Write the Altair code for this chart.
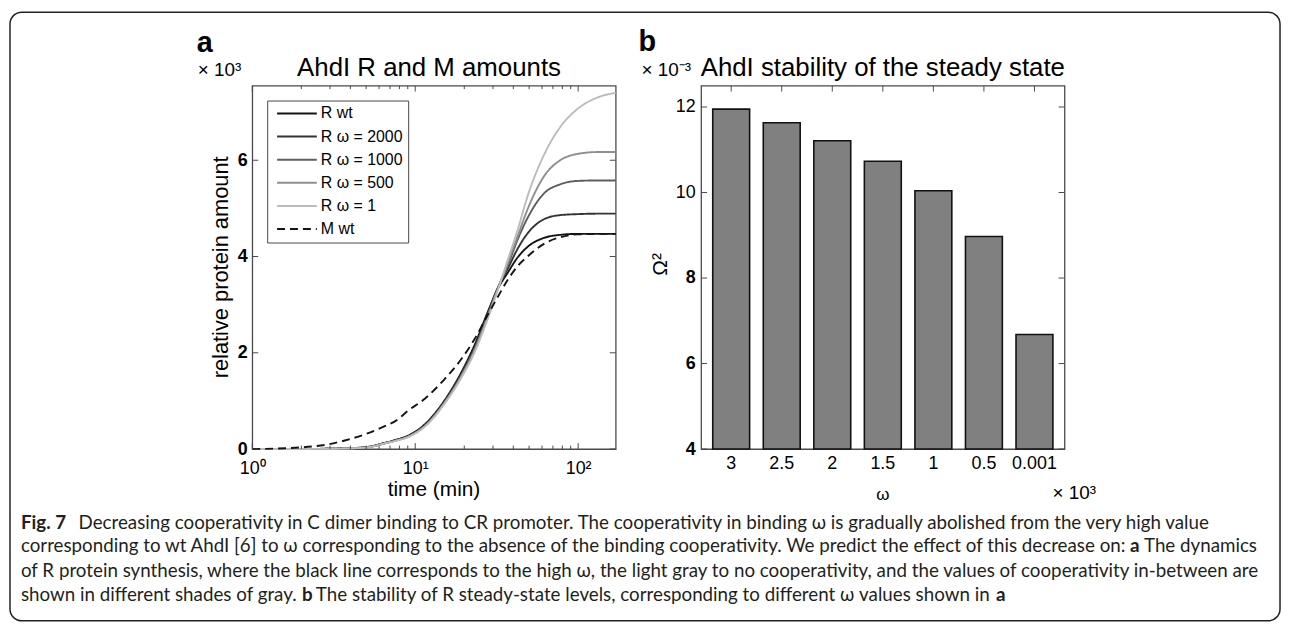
import altair as alt
import pandas as pd

# ---------------- data: panel a ----------------
time_min = [1, 2, 2.95, 4, 4.96, 6.56, 7.55, 9.06, 11.5, 15.2, 19.1, 23.2, 27.9,
            32.1, 36.9, 42.5, 48.9, 62.1, 77.6, 98.6, 130.6, 170]
r_wt = [0, 0.003, 0.007, 0.02, 0.04, 0.13, 0.19, 0.28, 0.52, 1.02, 1.58, 2.17, 2.85,
        3.33, 3.66, 3.98, 4.20, 4.39, 4.45, 4.47, 4.47, 4.47]
r_w2000 = [0, 0.002, 0.006, 0.018, 0.035, 0.13, 0.18, 0.27, 0.50, 1.00, 1.55, 2.12, 2.82,
           3.35, 3.74, 4.16, 4.48, 4.78, 4.86, 4.88, 4.89, 4.89]
r_w1000 = [0, 0.002, 0.006, 0.017, 0.033, 0.12, 0.18, 0.26, 0.49, 0.98, 1.52, 2.09, 2.78,
           3.33, 3.80, 4.35, 4.80, 5.32, 5.50, 5.57, 5.58, 5.58]
r_w500 = [0, 0.002, 0.006, 0.016, 0.032, 0.12, 0.17, 0.26, 0.48, 0.97, 1.50, 2.06, 2.75,
          3.32, 3.85, 4.42, 4.98, 5.68, 6.00, 6.13, 6.17, 6.17]
r_w1 = [0, 0.002, 0.005, 0.015, 0.03, 0.12, 0.17, 0.25, 0.47, 0.95, 1.47, 2.02, 2.71,
        3.30, 3.92, 4.55, 5.25, 6.13, 6.69, 7.06, 7.30, 7.40]
m_wt = [0, 0.035, 0.10, 0.21, 0.31, 0.48, 0.58, 0.80, 1.05, 1.46, 1.86, 2.29, 2.79,
        3.16, 3.51, 3.80, 4.00, 4.27, 4.40, 4.46, 4.47, 4.47]

series_names = ["R wt", "R \u03c9 = 2000", "R \u03c9 = 1000", "R \u03c9 = 500", "R \u03c9 = 1", "M wt"]
series_values = [r_wt, r_w2000, r_w1000, r_w500, r_w1, m_wt]
series_colors = ["#141414", "#333333", "#5e5e5e", "#8e8e8e", "#bcbcbc", "#141414"]
series_dashes = [[1, 0], [1, 0], [1, 0], [1, 0], [1, 0], [8, 5]]

x_major = [1, 10, 100]
x_minor = [2, 3, 4, 5, 6, 7, 8, 9, 20, 30, 40, 50, 60, 70, 80, 90]
a_yticks = [0, 2, 4, 6]

# ---------------- data: panel b ----------------
omega_labels = ["3", "2.5", "2", "1.5", "1", "0.5", "0.001"]
stability = [11.95, 11.63, 11.21, 10.73, 10.04, 8.97, 6.68]
b_yticks = [4, 6, 8, 10, 12]

rows = []
for k, name in enumerate(series_names):
    for t, v in zip(time_min, series_values[k]):
        rows.append({"time": t, "amount": v, "series": name, "ord": k})
df_a = pd.DataFrame(rows)
df_b = pd.DataFrame({"omega": omega_labels, "stab": stability})

W, H = 366, 366
FONT = "Liberation Sans"
CAP = "Lato"
FRAME = "#4a4a4a"


def txt(s, x, y, size, font=FONT, weight="normal", align="left", baseline="alphabetic",
        angle=0, color="black", style="normal"):
    return alt.Chart(alt.Data(values=[{}])).mark_text(
        text=s, font=font, fontSize=size, fontWeight=weight, align=align,
        baseline=baseline, angle=angle, color=color, fontStyle=style
    ).encode(x=alt.value(x), y=alt.value(y))


# ---------------- panel a ----------------
xs_a = alt.Scale(type="log", domain=[1, 170], nice=False)
ys_a = alt.Scale(domain=[0, 7.55], nice=False, zero=False)
ax_xa = alt.Axis(values=x_major, title=None, ticks=False, domain=False, grid=False,
                 labelFontSize=18, labelPadding=11, labelFont=FONT, labelColor="black",
                 labelFlush=False,
                 labelExpr="datum.value == 1 ? '10\u2070' : (datum.value == 10 ? '10\u00b9' : '10\u00b2')")
ax_ya = alt.Axis(values=a_yticks, title=None, ticks=False, domain=False, grid=False,
                 labelFontSize=18, labelFontWeight="bold", labelPadding=5, labelFont=FONT,
                 labelColor="black", labelFlush=False)

leg = alt.Legend(orient="none", legendX=15, legendY=15, title=None,
                 symbolType="M-4,0H4", symbolSize=100, symbolStrokeWidth=2,
                 labelFontSize=16, labelFont=FONT, labelColor="black", rowPadding=7.3,
                 padding=5, strokeColor=FRAME, fillColor="white",
                 symbolOffset=17, labelOffset=16)

lines = alt.Chart(df_a).mark_line(interpolate="monotone", strokeWidth=1.9).encode(
    x=alt.X("time:Q", scale=xs_a, axis=ax_xa),
    y=alt.Y("amount:Q", scale=ys_a, axis=ax_ya),
    color=alt.Color("series:N", scale=alt.Scale(domain=series_names, range=series_colors), legend=leg),
    strokeDash=alt.StrokeDash("series:N", scale=alt.Scale(domain=series_names, range=series_dashes), legend=leg),
    order=alt.Order("ord:Q"),
)

def xticks_a(vals, y0, y1):
    return alt.Chart(pd.DataFrame({"v": vals})).mark_rule(color=FRAME, strokeWidth=1).encode(
        x=alt.X("v:Q", scale=xs_a, axis=ax_xa), y=alt.value(y0), y2=alt.value(y1))

def yticks_a(vals, x0, x1):
    return alt.Chart(pd.DataFrame({"v": vals})).mark_rule(color=FRAME, strokeWidth=1).encode(
        y=alt.Y("v:Q", scale=ys_a, axis=ax_ya), x=alt.value(x0), x2=alt.value(x1))

ticks_a = [xticks_a(x_major, H, H - 6), xticks_a(x_minor, H, H - 3.5),
           xticks_a(x_major, 0, 6), xticks_a(x_minor, 0, 3.5),
           yticks_a(a_yticks, 0, 6), yticks_a(a_yticks, W, W - 6)]

border = alt.Chart(alt.Data(values=[{}])).mark_rect(
    filled=False, stroke="#222222", strokeWidth=1.5, cornerRadius=12
).encode(x=alt.value(-244), x2=alt.value(1035), y=alt.value(-74), y2=alt.value(539))

texts_a = [
    txt("a", -56, -34, 29, weight="bold"),
    txt("\u00d7 10\u00b3", -55, -10, 19),
    txt("AhdI R and M amounts", 178, -10, 26, align="center"),
    txt("relative protein amount", -31, 183, 22, align="center", baseline="middle", angle=270),
    txt("time (min)", 183, 413, 21, align="center"),
]

CC = "#231f20"
CS = 18.9
caption = [
    txt("Fig. 7", -233, 446, CS, font=CAP, weight="bold", color=CC),
    txt("Decreasing cooperativity in C dimer binding to CR promoter. The cooperativity in binding \u03c9 is gradually abolished from the very high value",
        -175, 446, CS, font=CAP, color=CC),
    txt("corresponding to wt AhdI [6] to \u03c9 corresponding to the absence of the binding cooperativity. We predict the effect of this decrease on:",
        -233, 470, CS, font=CAP, color=CC),
    txt("a", 884, 470, CS, font=CAP, weight="bold", color=CC),
    txt("The dynamics", 898, 470, CS, font=CAP, color=CC),
    txt("of R protein synthesis, where the black line corresponds to the high \u03c9, the light gray to no cooperativity, and the values of cooperativity in-between are",
        -233, 495, CS, font=CAP, color=CC),
    txt("shown in different shades of gray.", -233, 519, CS, font=CAP, color=CC),
    txt("b", 50, 519, CS, font=CAP, weight="bold", color=CC),
    txt("The stability of R steady-state levels, corresponding to different \u03c9 values shown in",
        64, 519, CS, font=CAP, color=CC),
    txt("a", 749, 519, CS, font=CAP, weight="bold", color=CC),
]

panel_a = alt.layer(border, lines, *ticks_a, *texts_a, *caption).properties(width=W, height=H)

# ---------------- panel b ----------------
xs_b = alt.Scale(domain=omega_labels, paddingInner=0.27, paddingOuter=0.23)
ys_b = alt.Scale(domain=[4, 12.5], nice=False, zero=False)
ax_xb = alt.Axis(title=None, ticks=False, domain=False, grid=False, labelAngle=0,
                 labelFontSize=18, labelPadding=6, labelFont=FONT, labelColor="black")
ax_yb = alt.Axis(values=b_yticks, title=None, ticks=False, domain=False, grid=False,
                 labelFontSize=18, labelPadding=6, labelFont=FONT, labelColor="black",
                 labelFlush=False,
                 labelFontWeight=alt.condition("datum.value <= 8", alt.value("bold"), alt.value("normal")))

bars = alt.Chart(df_b).mark_bar(color="#808080", stroke="#111111", strokeWidth=1.6).encode(
    x=alt.X("omega:N", sort=omega_labels, scale=xs_b, axis=ax_xb),
    y=alt.Y("stab:Q", scale=ys_b, axis=ax_yb),
    y2=alt.datum(4),
)

def xticks_b(y0, y1):
    return alt.Chart(pd.DataFrame({"omega": omega_labels})).mark_rule(color=FRAME, strokeWidth=1).encode(
        x=alt.X("omega:N", sort=omega_labels, scale=xs_b, axis=ax_xb), y=alt.value(y0), y2=alt.value(y1))

def yticks_b(x0, x1):
    return alt.Chart(pd.DataFrame({"v": b_yticks})).mark_rule(color=FRAME, strokeWidth=1).encode(
        y=alt.Y("v:Q", scale=ys_b, axis=ax_yb), x=alt.value(x0), x2=alt.value(x1))

ticks_b = [xticks_b(0, 6), yticks_b(0, 6), yticks_b(W, W - 6)]

texts_b = [
    txt("b", -63, -35, 29, weight="bold"),
    txt("\u00d7 10\u207b\u00b3", -60, -10, 19),
    txt("AhdI stability of the steady state", 183, -10, 26, align="center"),
    txt("\u03a9\u00b2", -40, 180, 21, align="center", baseline="middle", angle=270),
    txt("\u03c9", 183, 417, 17, align="center"),
    txt("\u00d7 10\u00b3", 354, 416, 19),
]

panel_b = alt.layer(bars, *ticks_b, *texts_b).properties(width=W, height=H)

chart = alt.hconcat(panel_a, panel_b, spacing=86, bounds="flush").properties(
    padding=0
).configure_view(stroke=FRAME, strokeWidth=1.3)

chart.save("out.html", embed_options={"renderer": "svg", "actions": False})
